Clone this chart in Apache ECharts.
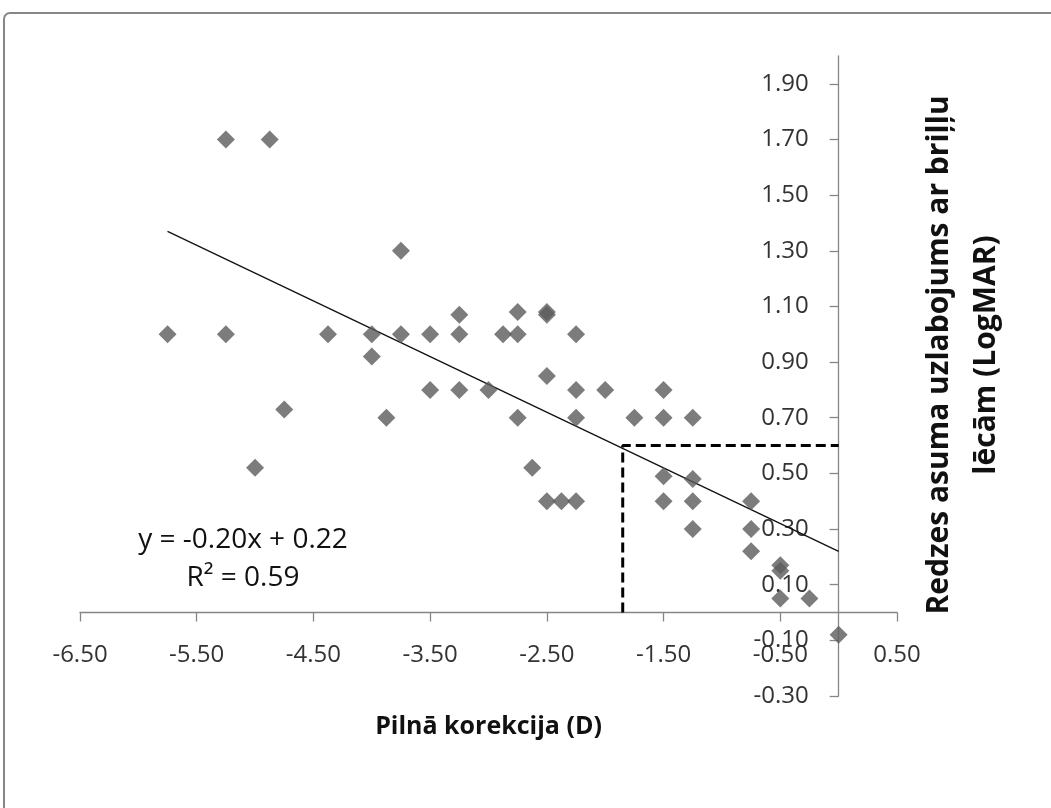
<!DOCTYPE html>
<html>
<head>
<meta charset="utf-8">
<script src="https://cdn.jsdelivr.net/npm/echarts@6/dist/echarts.min.js"></script>
<style>
html,body{margin:0;padding:0;background:#fff;}
#chart{width:1051px;height:808px;}
</style>
</head>
<body>
<div id="chart"></div>
<script>
// Data
var correctionX = [-5.75,-5.25,-4.875,-5.25,-5.0,-4.75,-4.375,-4.0,-4.0,-3.875,-3.75,-3.75,-3.5,-3.5,-3.25,-3.25,-3.25,-3.0,-2.875,-2.75,-2.75,-2.75,-2.625,-2.5,-2.5,-2.5,-2.5,-2.375,-2.25,-2.25,-2.25,-2.25,-2.0,-1.75,-1.5,-1.5,-1.5,-1.5,-1.25,-1.25,-1.25,-1.25,-0.75,-0.75,-0.75,-0.5,-0.5,-0.5,-0.25,0.0];
var improvementY = [1.00,1.70,1.70,1.00,0.52,0.73,1.00,1.00,0.92,0.70,1.30,1.00,1.00,0.80,1.07,1.00,0.80,0.80,1.00,1.08,1.00,0.70,0.52,1.07,1.08,0.85,0.40,0.40,0.40,1.00,0.80,0.70,0.80,0.70,0.80,0.70,0.49,0.40,0.70,0.48,0.40,0.30,0.40,0.30,0.22,0.17,0.15,0.05,0.05,-0.08];
var trendX = [-5.75, 0.0];
var trendY = [1.37, 0.22];
var guideX = [-1.85, -1.85, 0.0];
var guideY = [0.0, 0.60, 0.60];
var equationText = 'y = -0.20x + 0.22';
var r2Text = 'R² = 0.59';
var xTitle = 'Pilnā korekcija (D)';
var yTitle = 'Redzes asuma uzlabojums ar briļļu\nlēcām (LogMAR)';

function zip(a, b) { return a.map(function (v, i) { return [v, b[i]]; }); }

var FONT = '"Open Sans", sans-serif';
var GRID = { left: 80, right: 154, top: 56, bottom: 112 };
var chart = echarts.init(document.getElementById('chart'));
chart.setOption({
  backgroundColor: '#ffffff',
  animation: false,
  grid: { left: GRID.left, right: GRID.right, top: GRID.top, bottom: GRID.bottom, containLabel: false, outerBoundsMode: 'none' },
  xAxis: {
    type: 'value', min: -6.5, max: 0.5, interval: 1, position: 'bottom', offset: 0,
    axisLine: { onZero: false, lineStyle: { color: '#868686', width: 1.3 } },
    axisTick: { show: true, length: 9, lineStyle: { color: '#868686', width: 1.3 } },
    splitLine: { show: false },
    axisLabel: { margin: 31, color: '#333', fontFamily: FONT, fontSize: 24,
      formatter: function (v) { return v.toFixed(2); } },
    name: xTitle, nameLocation: 'middle', nameGap: 102,
    nameTextStyle: { fontFamily: FONT, fontSize: 25, fontWeight: 'bold', color: '#111' }
  },
  yAxis: {
    type: 'value', min: -0.3, max: 2.0, interval: 0.2, position: 'left', offset: 0,
    axisLine: { onZero: false, lineStyle: { color: '#868686', width: 1.3 } },
    axisTick: { show: true, length: 9, lineStyle: { color: '#868686', width: 1.3 } },
    splitLine: { show: false },
    axisLabel: { margin: 30, color: '#333', fontFamily: FONT, fontSize: 24, showMaxLabel: false,
      formatter: function (v) { return v.toFixed(2); } }
  },
  graphic: [
    { type: 'rect', silent: true, shape: { x: 4, y: 13, width: 1100, height: 900, r: 6 },
      style: { fill: 'none', stroke: '#878787', lineWidth: 2 } },
    { type: 'text', x: 243, y: 540, style: { text: equationText, fontFamily: FONT, fontSize: 28,
      fill: '#111', align: 'center', verticalAlign: 'middle' } },
    { type: 'text', x: 243, y: 578, style: { text: r2Text, fontFamily: FONT, fontSize: 28,
      fill: '#111', align: 'center', verticalAlign: 'middle' } },
    { type: 'text', x: 963, y: 355, rotation: Math.PI / 2, style: { text: yTitle, fontFamily: FONT,
      fontSize: 30, fontWeight: 'bold', fill: '#111', align: 'center', verticalAlign: 'middle', lineHeight: 47 } }
  ],
  series: [
    { type: 'line', data: zip(trendX, trendY), symbol: 'none', z: 3,
      lineStyle: { color: '#111', width: 1.3 } },
    { type: 'line', data: zip(guideX, guideY), symbol: 'none', z: 4,
      lineStyle: { color: '#000', width: 3, type: [10, 5] } },
    { type: 'scatter', data: zip(correctionX, improvementY), symbol: 'diamond', symbolSize: 18, z: 5,
      itemStyle: { color: '#5b5b5b' } }
  ]
});
// Move each axis (line, ticks, labels) so that it crosses the other axis at zero
var origin = chart.convertToPixel({ gridIndex: 0 }, [0, 0]);
var gridBottomY = 808 - GRID.bottom;
chart.setOption({
  xAxis: { offset: origin[1] - gridBottomY },
  yAxis: { offset: GRID.left - origin[0] }
});
</script>
</body>
</html>
